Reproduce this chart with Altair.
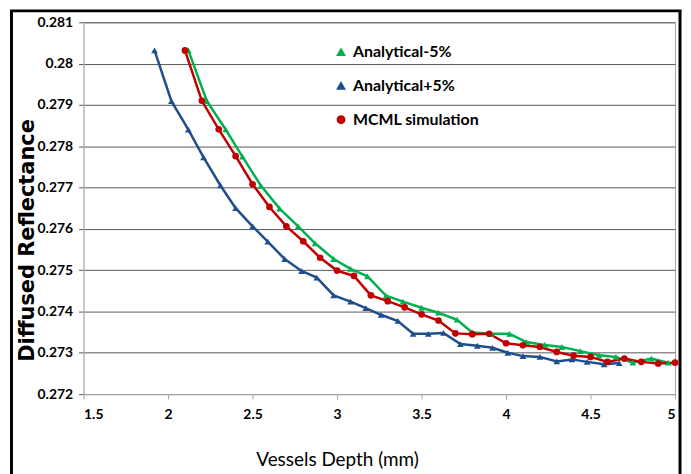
import altair as alt
import pandas as pd

series_names = ["Analytical-5%", "Analytical+5%", "MCML simulation"]
series_colors = ["#00B050", "#1F4E8C", "#C00000"]
series_shapes = ["triangle-up", "triangle-up", "circle"]

depth_green = [2.12, 2.23, 2.34, 2.44, 2.55, 2.66, 2.77, 2.87, 2.98, 3.08,
               3.18, 3.29, 3.39, 3.50, 3.60, 3.71, 3.80, 3.91, 4.02, 4.12,
               4.23, 4.33, 4.44, 4.55, 4.65, 4.75, 4.86, 4.96]
refl_green = [0.28032, 0.27909, 0.27841, 0.27775, 0.27704, 0.27649, 0.27606, 0.27565, 0.27527, 0.27503,
              0.27485, 0.27438, 0.27424, 0.27409, 0.27397, 0.27380, 0.27349, 0.27346, 0.27346, 0.27326,
              0.27319, 0.27314, 0.27304, 0.27294, 0.27290, 0.27276, 0.27286, 0.27276]

depth_blue = [1.92, 2.02, 2.12, 2.21, 2.31, 2.40, 2.50, 2.59, 2.69, 2.79,
              2.88, 2.98, 3.08, 3.17, 3.26, 3.36, 3.45, 3.54, 3.63, 3.73,
              3.83, 3.92, 4.01, 4.10, 4.20, 4.30, 4.39, 4.48, 4.58, 4.67]
refl_blue = [0.28032, 0.27909, 0.27840, 0.27773, 0.27705, 0.27650, 0.27606, 0.27569, 0.27527, 0.27498,
             0.27482, 0.27439, 0.27424, 0.27408, 0.27392, 0.27377, 0.27346, 0.27346, 0.27348, 0.27321,
             0.27317, 0.27312, 0.27300, 0.27292, 0.27290, 0.27279, 0.27284, 0.27278, 0.27272, 0.27275]

depth_red = [2.1, 2.2, 2.3, 2.4, 2.5, 2.6, 2.7, 2.8, 2.9, 3.0,
             3.1, 3.2, 3.3, 3.4, 3.5, 3.6, 3.7, 3.8, 3.9, 4.0,
             4.1, 4.2, 4.3, 4.4, 4.5, 4.6, 4.7, 4.8, 4.9, 5.0]
refl_red = [0.28032, 0.27910, 0.27841, 0.27776, 0.27708, 0.27653, 0.27606, 0.27570, 0.27530, 0.27499,
            0.27486, 0.27439, 0.27425, 0.27410, 0.27393, 0.27378, 0.27347, 0.27345, 0.27346, 0.27323,
            0.27318, 0.27314, 0.27302, 0.27293, 0.27290, 0.27278, 0.27286, 0.27278, 0.27274, 0.27276]

x_ticks = [1.5, 2, 2.5, 3, 3.5, 4, 4.5, 5]
y_ticks = [0.272, 0.273, 0.274, 0.275, 0.276, 0.277, 0.278, 0.279, 0.28, 0.281]

df = pd.concat([
    pd.DataFrame({"depth": depth_blue, "refl": refl_blue, "series": series_names[1]}),
    pd.DataFrame({"depth": depth_green, "refl": refl_green, "series": series_names[0]}),
    pd.DataFrame({"depth": depth_red, "refl": refl_red, "series": series_names[2]}),
], ignore_index=True)

FONT = "Lato, Liberation Sans, Arial"

x_enc = alt.X("depth:Q",
              scale=alt.Scale(domain=[1.5, 5], nice=False, zero=False),
              axis=alt.Axis(values=x_ticks, format="~g", grid=False,
                            title="Vessels Depth (mm)",
                            titleFont=FONT, titleFontSize=19, titleFontWeight="normal",
                            titleColor="black", titleX=255, titleY=66,
                            titleAlign="center", titleBaseline="middle",
                            labelFont=FONT, labelFontSize=14, labelFontWeight="bold",
                            labelColor="black", labelPadding=9,
                            tickSize=5, tickColor="#a6a6a6",
                            domainColor="#a6a6a6"))
y_enc = alt.Y("refl:Q",
              scale=alt.Scale(domain=[0.272, 0.281], nice=False, zero=False),
              axis=alt.Axis(values=y_ticks, format="~g", grid=True,
                            gridColor="#595959", gridWidth=1,
                            title="Diffused Reflectance",
                            titleFont="DejaVu Sans", titleFontSize=21, titleFontWeight="bold",
                            titleColor="black", titleX=-56, titleY=219,
                            titleAlign="center", titleBaseline="middle", titleAngle=270,
                            labelFont=FONT, labelFontSize=14, labelFontWeight="bold",
                            labelColor="black", labelPadding=6,
                            tickSize=5, tickColor="#595959",
                            domainColor="#bfbfbf"))

color_scale = alt.Scale(domain=series_names, range=series_colors)
shape_scale = alt.Scale(domain=series_names, range=series_shapes)

legend = alt.Legend(title=None, orient="none", legendX=251, legendY=22,
                    labelFont=FONT, labelFontSize=16, labelFontWeight="bold",
                    labelColor="black", labelOffset=4, rowPadding=18,
                    symbolSize=55, padding=0)

lines = alt.Chart(df).mark_line(strokeWidth=2.5).encode(
    x=x_enc, y=y_enc,
    color=alt.Color("series:N", scale=color_scale, legend=legend),
    order=alt.Order("depth:Q"),
)

points = alt.Chart(df).mark_point(filled=True, size=45, opacity=1).encode(
    x=x_enc, y=y_enc,
    color=alt.Color("series:N", scale=color_scale, legend=legend),
    shape=alt.Shape("series:N", scale=shape_scale, legend=legend),
)

frame_df = pd.DataFrame({"k": [0]})
frame_left = alt.Chart(frame_df).mark_rule(color="black", strokeWidth=3).encode(
    x=alt.value(-72.5), y=alt.value(-11.5), y2=alt.value(470))
frame_top = alt.Chart(frame_df).mark_rule(color="black", strokeWidth=3).encode(
    x=alt.value(-74), x2=alt.value(601.5), y=alt.value(-11.5))
frame_right = alt.Chart(frame_df).mark_rule(color="black", strokeWidth=3).encode(
    x=alt.value(600), y=alt.value(-11.5), y2=alt.value(470))

chart = alt.layer(lines, points, frame_left, frame_top, frame_right).properties(
    width=595, height=374,
    autosize=alt.AutoSizeParams(type="none"),
    padding={"left": 76, "top": 13, "right": 8, "bottom": 80},
    background="white",
).configure_view(stroke="#a6a6a6", strokeWidth=1)

chart.save("out.html", embed_options={"renderer": "svg", "actions": False})
